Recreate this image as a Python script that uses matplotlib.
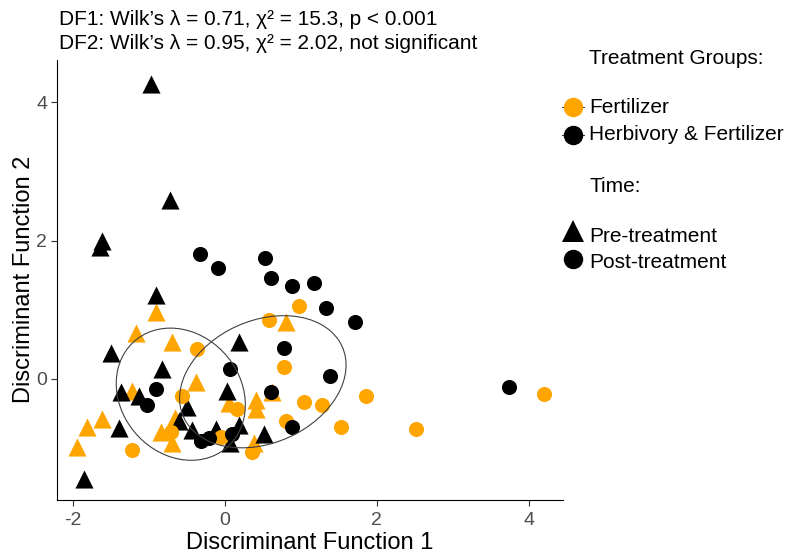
import numpy as np
import matplotlib.pyplot as plt
from matplotlib.patches import Ellipse
from matplotlib.lines import Line2D

plt.rcParams['font.family'] = ['Liberation Sans', 'DejaVu Sans']
plt.rcParams['axes.unicode_minus'] = False

# --- data ---
# Fertilizer, pre-treatment (orange triangles)
fert_pre_x = [-0.91, -1.17, -0.70, -1.22, -1.62, -1.82, -1.95, -0.38, 0.80,
              -0.66, -0.84, -0.70, 0.05, 0.41, 0.41, 0.38, 0.62]
fert_pre_y = [0.97, 0.67, 0.54, -0.17, -0.58, -0.70, -0.99, -0.05, 0.82,
              -0.56, -0.76, -0.93, -0.35, -0.30, -0.43, -0.92, -0.19]
# Fertilizer, post-treatment (orange circles)
fert_post_x = [4.20, 2.51, 1.86, 0.97, 0.58, 0.78, 1.04, 1.28, 1.53, 0.80,
               -0.37, -0.57, 0.16, -1.22, -0.71, -0.05, 0.36]
fert_post_y = [-0.22, -0.73, -0.24, 1.05, 0.86, 0.17, -0.34, -0.37, -0.70, -0.61,
               0.43, -0.25, -0.43, -1.02, -0.77, -0.84, -1.06]
# Herbivory & Fertilizer, pre-treatment (black triangles)
herb_pre_x = [-0.97, -0.72, -1.62, -1.64, -0.91, -1.50, 0.18, -0.83, -1.37, -1.13,
              -1.39, -1.86, 0.03, -0.50, -0.61, -0.43, -0.12, 0.18, 0.07, 0.51]
herb_pre_y = [4.26, 2.59, 2.00, 1.91, 1.22, 0.38, 0.54, 0.14, -0.19, -0.25,
              -0.71, -1.44, -0.18, -0.40, -0.61, -0.74, -0.73, -0.66, -0.93, -0.80]
# Herbivory & Fertilizer, post-treatment (black circles)
herb_post_x = [-0.33, -0.09, 0.53, 0.61, 0.89, 1.17, 1.33, 1.71, 0.78, 0.07,
               1.39, -0.91, -1.03, 0.61, 0.89, -0.32, -0.21, 0.09, 3.74]
herb_post_y = [1.81, 1.61, 1.75, 1.46, 1.35, 1.39, 1.03, 0.83, 0.45, 0.14,
               0.05, -0.14, -0.37, -0.19, -0.70, -0.90, -0.86, -0.79, -0.11]

# ellipses: centre, full width, full height, angle (deg, data space)
ell_cx = [-0.58, 0.50]
ell_cy = [-0.22, -0.04]
ell_w = [1.62, 2.33]
ell_h = [1.98, 1.74]
ell_ang = [26.9, 30.7]

ORANGE = '#FFA500'

fig = plt.figure(figsize=(7.88, 5.54), dpi=100)
ax = fig.add_axes([0.0723, 0.0975, 0.642, 0.795])

ax.scatter(fert_pre_x, fert_pre_y, marker='^', s=170, color=ORANGE, linewidths=0, zorder=3)
ax.scatter(herb_pre_x, herb_pre_y, marker='^', s=170, color='black', linewidths=0, zorder=3)
ax.scatter(fert_post_x, fert_post_y, marker='o', s=118, color=ORANGE, linewidths=0, zorder=3)
ax.scatter(herb_post_x, herb_post_y, marker='o', s=118, color='black', linewidths=0, zorder=3)

for cx, cy, w, h, a in zip(ell_cx, ell_cy, ell_w, ell_h, ell_ang):
    ax.add_patch(Ellipse((cx, cy), w, h, angle=a, fill=False, edgecolor='#404040', lw=0.8, zorder=4))

ax.set_xlim(-2.21, 4.45)
ax.set_ylim(-1.75, 4.62)
ax.set_xticks([-2, 0, 2, 4])
ax.set_yticks([0, 2, 4])
for s in ['top', 'right']:
    ax.spines[s].set_visible(False)
ax.tick_params(labelsize=14, labelcolor='#4D4D4D', color='#333333', length=4)
ax.tick_params(axis='x', pad=5)
ax.tick_params(axis='y', pad=3)
ax.set_xlabel('Discriminant Function 1', fontsize=17, labelpad=2)
ax.set_ylabel('Discriminant Function 2', fontsize=17, labelpad=1)

fig.text(0.075, 0.965, 'DF1: Wilk\u2019s \u03bb = 0.71, \u03c7\u00b2 = 15.3, p < 0.001',
         fontsize=15, va='center')
fig.text(0.075, 0.921, 'DF2: Wilk\u2019s \u03bb = 0.95, \u03c7\u00b2 = 2.02, not significant',
         fontsize=15, va='center')

# --- manual legend ---
def key(x, y, marker, color, ms):
    fig.add_artist(Line2D([x], [y], marker=marker, color=color, ms=ms, mew=0,
                          transform=fig.transFigure))

lx, tx = 0.727, 0.748
fs = 15
fig.text(tx, 0.895, 'Treatment Groups:', fontsize=fs, va='center')
for yy, col, lab in [(0.806, ORANGE, 'Fertilizer'), (0.757, 'black', 'Herbivory & Fertilizer')]:
    fig.add_artist(Line2D([0.713, 0.741], [yy, yy], color='black', lw=0.6,
                          transform=fig.transFigure))
    key(lx, yy, 'o', col, 14)
    fig.text(tx, yy, lab, fontsize=fs, va='center')
fig.text(tx, 0.664, 'Time:', fontsize=fs, va='center')
key(lx, 0.583, '^', 'black', 16)
fig.text(tx, 0.573, 'Pre-treatment', fontsize=fs, va='center')
key(lx, 0.532, 'o', 'black', 14)
fig.text(tx, 0.527, 'Post-treatment', fontsize=fs, va='center')

fig.savefig('out.png', dpi=100)
